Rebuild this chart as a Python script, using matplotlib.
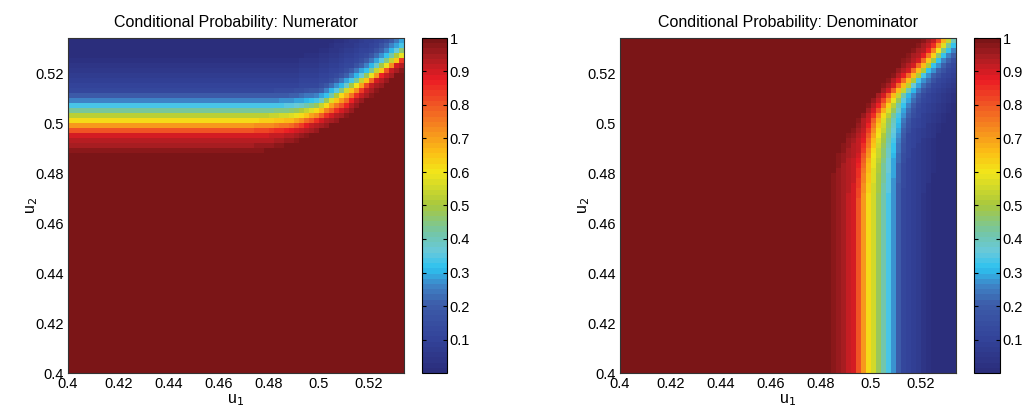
import numpy as np
import matplotlib
matplotlib.use("Agg")
import matplotlib.pyplot as plt
from matplotlib.colors import LinearSegmentedColormap

plt.rcParams['font.family'] = ['Liberation Sans', 'DejaVu Sans']

# ---------------- data ----------------
u_min, u_max, n_cells = 0.400, 0.534, 67
tick_vals = [0.40, 0.42, 0.44, 0.46, 0.48, 0.50, 0.52]
tick_labels = ['0.4', '0.42', '0.44', '0.46', '0.48', '0.5', '0.52']
cbar_ticks = [0.1, 0.2, 0.3, 0.4, 0.5, 0.6, 0.7, 0.8, 0.9, 1.0]
cbar_labels = ['0.1', '0.2', '0.3', '0.4', '0.5', '0.6', '0.7', '0.8', '0.9', '1']

levels = [1.0, 0.9, 0.62, 0.33, 0.12, 0.0]

# Numerator: u2 position of each level line at these u1 knots
num_u1 = [0.400, 0.470, 0.480, 0.490, 0.500, 0.510, 0.520, 0.534]
num_lvl_100 = [0.487, 0.487, 0.488, 0.491, 0.496, 0.501, 0.509, 0.521]
num_lvl_090 = [0.495, 0.495, 0.4955, 0.4968, 0.5005, 0.5055, 0.5150, 0.5252]
num_lvl_062 = [0.501, 0.501, 0.5012, 0.5020, 0.5052, 0.5115, 0.5179, 0.5272]
num_lvl_033 = [0.507, 0.507, 0.5070, 0.5075, 0.5092, 0.5150, 0.5215, 0.5319]
num_lvl_012 = [0.513, 0.513, 0.5130, 0.5135, 0.5150, 0.5210, 0.5280, 0.5400]
num_lvl_000 = [0.527, 0.527, 0.5270, 0.5280, 0.5310, 0.5370, 0.5450, 0.5560]

# Denominator: u1 position of each level line at these u2 knots
den_u2 = [0.400, 0.470, 0.484, 0.4932, 0.5012, 0.5105, 0.5172, 0.524, 0.5305, 0.534]
den_lvl_100 = [0.482, 0.482, 0.484, 0.4885, 0.494, 0.5005, 0.506, 0.511, 0.5165, 0.520]
den_lvl_090 = [0.4932, 0.4932, 0.4944, 0.4967, 0.4989, 0.5047, 0.5109, 0.518, 0.524, 0.5267]
den_lvl_062 = [0.4989, 0.4989, 0.5000, 0.5020, 0.5040, 0.5093, 0.5160, 0.5227, 0.528, 0.5307]
den_lvl_033 = [0.5073, 0.5073, 0.5080, 0.5090, 0.5105, 0.5140, 0.5192, 0.5258, 0.532, 0.5347]
den_lvl_012 = [0.513, 0.513, 0.5135, 0.5145, 0.5170, 0.5210, 0.5270, 0.5330, 0.540, 0.543]
den_lvl_000 = [0.526, 0.526, 0.5270, 0.5280, 0.5310, 0.5360, 0.5410, 0.5470, 0.553, 0.556]

# colour map sampled from the reference colour bar
cmap_pos = [0.0, 0.1, 0.2, 0.26, 0.31, 0.36, 0.42, 0.5, 0.6, 0.66, 0.72, 0.8, 0.88, 0.95, 1.0]
cmap_hex = ['#2b2e7c', '#33449a', '#3d5ca9', '#3e86c8', '#2cc2f0', '#68c9dc', '#74c6a4',
            '#a8c83e', '#f2e61a', '#fbbf15', '#f7941d', '#f15a24', '#ec1c24', '#a91d22', '#7b1517']

# ---------------- build the fields ----------------
edges = np.linspace(u_min, u_max, n_cells + 1)
centers = 0.5 * (edges[:-1] + edges[1:])

num_lines = np.array([num_lvl_100, num_lvl_090, num_lvl_062, num_lvl_033, num_lvl_012, num_lvl_000])
den_lines = np.array([den_lvl_100, den_lvl_090, den_lvl_062, den_lvl_033, den_lvl_012, den_lvl_000])

Z_num = np.zeros((n_cells, n_cells))
for j, x in enumerate(centers):
    pos = [np.interp(x, num_u1, ln) for ln in num_lines]
    Z_num[:, j] = np.interp(centers, pos, levels)

Z_den = np.zeros((n_cells, n_cells))
for i, y in enumerate(centers):
    pos = [np.interp(y, den_u2, ln) for ln in den_lines]
    Z_den[i, :] = np.interp(centers, pos, levels)

cmap = LinearSegmentedColormap.from_list('refjet', list(zip(cmap_pos, cmap_hex)), N=64)

# ---------------- figure ----------------
W, H = 1023, 415
fig = plt.figure(figsize=(W / 100, H / 100), dpi=100)

def fr(x0, y0, x1, y1):
    return [x0 / W, 1 - y1 / H, (x1 - x0) / W, (y1 - y0) / H]

panels = [
    (Z_num, 'Conditional Probability: Numerator', fr(68, 38, 404, 373), fr(422, 38, 447, 373)),
    (Z_den, 'Conditional Probability: Denominator', fr(620, 38, 956, 373), fr(974, 38, 1000, 373)),
]

for Z, title, ax_rect, cb_rect in panels:
    ax = fig.add_axes(ax_rect)
    mesh = ax.pcolormesh(edges, edges, Z, cmap=cmap, vmin=0, vmax=1, shading='flat')
    ax.set_xlim(u_min, u_max)
    ax.set_ylim(u_min, u_max)
    ax.set_xticks(tick_vals)
    ax.set_xticklabels(tick_labels)
    ax.set_yticks(tick_vals)
    ax.set_yticklabels(tick_labels)
    ax.tick_params(direction='in', length=0, labelsize=10.5, pad=3)
    ax.set_title(title, fontsize=11.5, pad=8)
    ax.set_xlabel('u$_1$', fontsize=11.5, labelpad=1)
    ax.set_ylabel('u$_2$', fontsize=11.5, labelpad=-3)
    for sp in ax.spines.values():
        sp.set_linestyle((0, (1, 1)))
        sp.set_linewidth(0.8)
        sp.set_color('#333333')

    cax = fig.add_axes(cb_rect)
    cb = fig.colorbar(mesh, cax=cax, ticks=cbar_ticks)
    cb.set_ticklabels(cbar_labels)
    cb.outline.set_linewidth(0.8)
    cax.tick_params(direction='in', length=3, width=0.8, left=True, right=True,
                    labelsize=10.5, pad=2)

fig.savefig('out.png', dpi=100)
